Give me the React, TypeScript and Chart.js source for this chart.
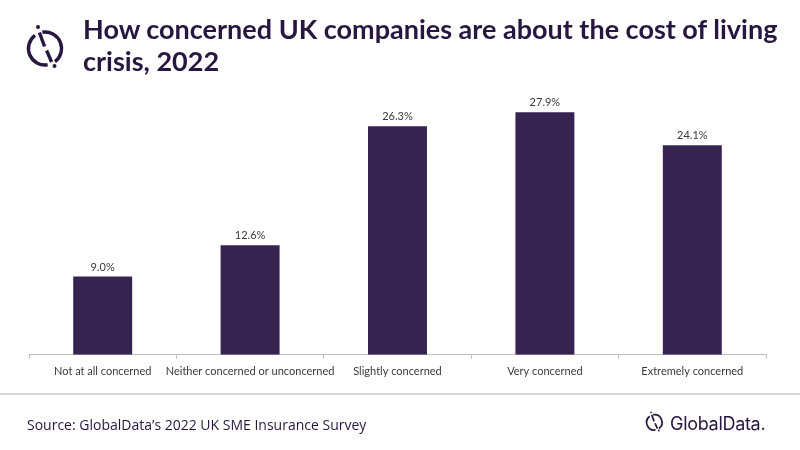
import React, { useEffect, useRef } from "react";
import { Chart, registerables } from "chart.js";

Chart.register(...registerables);

const categories = [
  "Not at all concerned",
  "Neither concerned or unconcerned",
  "Slightly concerned",
  "Very concerned",
  "Extremely concerned",
];
const shares = [9.0, 12.6, 26.3, 27.9, 24.1];

const PURPLE = "#352352";
const INK = "#271740";

// draws "9.0%" etc above each bar
const valueLabels = {
  id: "valueLabels",
  afterDatasetsDraw(chart) {
    const { ctx } = chart;
    const meta = chart.getDatasetMeta(0);
    ctx.save();
    ctx.font = "11px Lato, sans-serif";
    ctx.fillStyle = "#3a3a3a";
    ctx.textAlign = "center";
    ctx.textBaseline = "bottom";
    meta.data.forEach((bar, i) => {
      ctx.fillText(shares[i].toFixed(1) + "%", bar.x, bar.y - 4);
    });
    ctx.restore();
  },
};

// GlobalData mark, drawn in its own coordinate box
const Logo = ({ width = 45, height = 58, stroke = 3.4 }) => (
  <svg width={width} height={height} viewBox="25 22 45 58">
    <path
      d="M 47.64 64.79 A 16.5 16.5 0 0 1 35.02 35.35"
      fill="none"
      stroke={INK}
      strokeWidth={stroke}
    />
    <path
      d="M 42.36 32.21 A 16.5 16.5 0 0 1 54.98 61.65"
      fill="none"
      stroke={INK}
      strokeWidth={stroke}
    />
    <line x1="39.4" y1="32.5" x2="44.6" y2="46.5" stroke={INK} strokeWidth={stroke} />
    <line x1="46.6" y1="50.5" x2="51.6" y2="62" stroke={INK} strokeWidth={stroke} />
    <circle cx="38" cy="27" r="2" fill={INK} />
    <circle cx="54.5" cy="66" r="2" fill={INK} />
  </svg>
);

const ChartBox = () => {
  const chartRef = useRef(null);
  const chartInstance = useRef(null);

  useEffect(() => {
    if (chartInstance.current) chartInstance.current.destroy();
    const ctx = chartRef.current.getContext("2d");
    chartInstance.current = new Chart(ctx, {
      type: "bar",
      data: {
        labels: categories,
        datasets: [
          {
            data: shares,
            backgroundColor: PURPLE,
            borderColor: PURPLE,
            borderWidth: 0,
            barPercentage: 0.4,
            categoryPercentage: 1,
          },
        ],
      },
      options: {
        animation: false,
        responsive: false,
        maintainAspectRatio: false,
        layout: { padding: { left: 29, right: 34, top: 94, bottom: 66 } },
        scales: {
          x: {
            grid: {
              display: true,
              drawOnChartArea: false,
              drawTicks: true,
              tickLength: 4,
              offset: true,
              color: "#bfbfbf",
            },
            border: { display: true, color: "#bfbfbf", width: 1 },
            ticks: {
              color: "#3a3a3a",
              padding: 6,
              maxRotation: 0,
              autoSkip: false,
              font: { family: "Lato, sans-serif", size: 11 },
            },
          },
          y: { display: false, min: 0, max: 30 },
        },
        plugins: {
          legend: { display: false },
          tooltip: { enabled: false },
        },
      },
      plugins: [valueLabels],
    });
    return () => {
      if (chartInstance.current) {
        chartInstance.current.destroy();
        chartInstance.current = null;
      }
    };
  }, []);

  return (
    <canvas
      ref={chartRef}
      width={800}
      height={450}
      style={{ position: "absolute", left: 0, top: 0, width: 800, height: 450 }}
    />
  );
};

export default function App() {
  return (
    <div
      style={{
        position: "absolute",
        left: 0,
        top: 0,
        width: 800,
        height: 450,
        background: "#fff",
        overflow: "hidden",
        fontFamily: "'Open Sans', sans-serif",
      }}
    >
      <ChartBox />
      <div style={{ position: "absolute", left: 25, top: 22, lineHeight: 0 }}>
        <Logo />
      </div>
      <div
        style={{
          position: "absolute",
          left: 83,
          top: 13,
          width: 710,
          color: INK,
          fontFamily: "Lato, sans-serif",
          fontWeight: 700,
          fontSize: 27,
          lineHeight: "32px",
        }}
      >
        How concerned UK companies are about the cost of living crisis, 2022
      </div>
      <div
        style={{
          position: "absolute",
          left: 0,
          top: 393,
          width: 800,
          height: 2,
          background: "#d6d6d6",
        }}
      />
      <div
        style={{
          position: "absolute",
          left: 27,
          top: 415,
          color: INK,
          fontSize: 14,
        }}
      >
        Source: GlobalData’s 2022 UK SME Insurance Survey
      </div>
      <div
        style={{
          position: "absolute",
          left: 645,
          top: 410,
          display: "flex",
          alignItems: "center",
          gap: 4,
          color: INK,
          fontFamily: "Inter, sans-serif",
          fontSize: 18,
          letterSpacing: -0.3,
        }}
      >
        <Logo width={21} height={27} stroke={3.6} />
        <span>GlobalData.</span>
      </div>
    </div>
  );
}
